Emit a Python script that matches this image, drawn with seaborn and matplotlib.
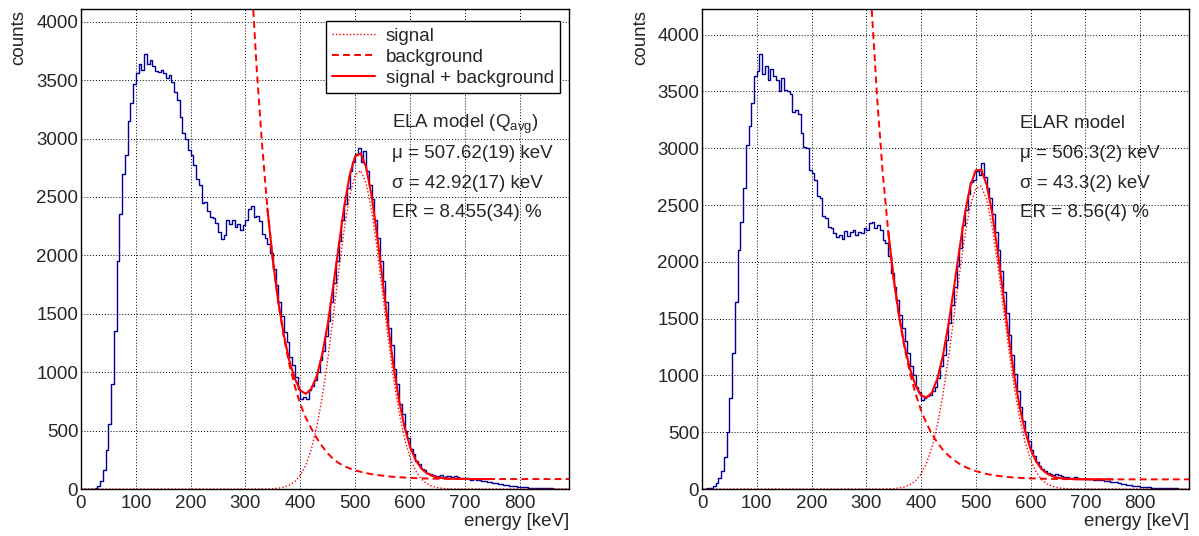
import numpy as np
import pandas as pd
import seaborn as sns
import matplotlib.pyplot as plt
from matplotlib.ticker import MultipleLocator

# histogram binning (keV)
bin_width = 5
energy_max = 890

# counts per 5 keV bin, 0..885 keV
counts_ela = [
    0, 0, 0, 0, 0, 5, 25, 70, 160, 330,
    560, 900, 1350, 1950, 2350, 2700, 2860, 3150, 3300, 3470,
    3560, 3640, 3590, 3720, 3640, 3670, 3620, 3580, 3570, 3590,
    3560, 3520, 3540, 3480, 3400, 3330, 3180, 3050, 3000, 2900,
    2860, 2770, 2650, 2600, 2450, 2460, 2380, 2330, 2320, 2280,
    2200, 2140, 2170, 2300, 2270, 2300, 2240, 2270, 2220, 2260,
    2300, 2400, 2420, 2330, 2340, 2290, 2180, 2150,
    2100, 2020, 1880, 1750, 1600, 1480, 1340, 1260, 1130, 1060,
    960, 860, 770, 790, 770, 850, 880, 930, 1000, 1100,
    1180, 1310, 1440, 1600, 1760, 1950, 2120, 2300, 2440, 2580,
    2720, 2800, 2870, 2920, 2800, 2890, 2720, 2600, 2480, 2300,
    2150, 1950, 1780, 1600, 1380, 1230, 1030, 900, 730, 640,
    500, 440, 340, 300, 240, 210, 170, 160, 140, 125,
    120, 115, 110, 118, 105, 110, 112, 100, 108, 100,
    95, 92, 90, 88, 80, 82, 75, 76, 70, 66,
    62, 60, 55, 50, 45, 40, 35, 32, 28, 25,
    22, 20, 18, 15, 13, 12, 10, 9, 8, 7,
    6, 6, 5, 5, 4, 4, 3, 3, 3, 2,
]
counts_elar = [
    0, 2, 5, 12, 25, 50, 95, 160, 280, 500,
    800, 1200, 1650, 2100, 2350, 2650, 3030, 3200, 3400, 3640,
    3680, 3830, 3650, 3720, 3600, 3700, 3640, 3600, 3500, 3620,
    3510, 3500, 3480, 3320, 3340, 3300, 3130, 3010, 3000, 2810,
    2780, 2720, 2580, 2560, 2400, 2390, 2310, 2300, 2250, 2220,
    2240, 2200, 2270, 2230, 2260, 2280, 2240, 2260, 2250, 2300,
    2280, 2340, 2350, 2300, 2320, 2280, 2190, 2170,
    2050, 1900, 1780, 1660, 1530, 1420, 1300, 1200, 1080, 1000,
    900, 850, 780, 800, 820, 830, 860, 900, 980, 1080,
    1180, 1310, 1460, 1620, 1780, 1960, 2120, 2320, 2460, 2600,
    2700, 2720, 2800, 2760, 2870, 2750, 2650, 2560, 2420, 2260,
    2100, 1920, 1730, 1550, 1360, 1180, 1010, 860, 720, 600,
    500, 420, 340, 290, 240, 200, 175, 160, 140, 135,
    125, 130, 120, 115, 108, 110, 100, 98, 102, 95,
    92, 90, 88, 85, 85, 80, 82, 78, 75, 72,
    70, 65, 62, 58, 52, 48, 42, 38, 34, 30,
    27, 24, 20, 18, 16, 14, 12, 11, 10, 9,
    8, 7, 7, 6, 5, 5, 4, 4, 3, 3,
]

# fit curves sampled every 10 keV from 300 to 890 keV
curve_energy = list(range(300, 900, 10))
signal_ela = [
    0, 0, 0, 0, 1, 3, 7, 16, 33, 64,
    118, 205, 339, 532, 789, 1108, 1474, 1859, 2219, 2510,
    2687, 2726, 2618, 2382, 2053, 1675, 1295, 948, 657, 432,
    268, 158, 88, 47, 23, 11, 5, 2, 1, 0,
    0, 0, 0, 0, 0, 0, 0, 0, 0, 0,
    0, 0, 0, 0, 0, 0, 0, 0, 0, 0,
]
background_ela = [
    5460, 4449, 3628, 2962, 2400, 1950, 1590, 1300, 1065, 880,
    725, 610, 518, 435, 365, 305, 258, 222, 196, 176,
    160, 147, 136, 127, 120, 114, 109, 104, 101, 98,
    95, 93, 92, 90, 89, 88, 88, 87, 87, 86,
    86, 86, 85, 85, 85, 85, 85, 85, 85, 85,
    85, 85, 85, 85, 85, 85, 85, 85, 85, 85,
]
signal_elar = [
    0, 0, 0, 1, 2, 4, 9, 19, 38, 73,
    131, 226, 367, 567, 829, 1150, 1511, 1883, 2226, 2493,
    2648, 2666, 2545, 2304, 1977, 1608, 1240, 907, 629, 413,
    257, 152, 85, 45, 23, 11, 5, 2, 1, 0,
    0, 0, 0, 0, 0, 0, 0, 0, 0, 0,
    0, 0, 0, 0, 0, 0, 0, 0, 0, 0,
]
background_elar = [
    5204, 4223, 3430, 2789, 2270, 1851, 1513, 1239, 1018, 839,
    694, 578, 483, 407, 345, 295, 255, 222, 196, 175,
    158, 144, 132, 123, 116, 110, 105, 101, 98, 96,
    94, 92, 91, 90, 89, 88, 87, 87, 86, 86,
    86, 85, 85, 85, 85, 85, 85, 85, 85, 85,
    85, 85, 85, 85, 85, 85, 85, 85, 85, 85,
]
fit_range = (340, 750)

text_ela = ['ELA model (Q$_{avg}$)', 'μ = 507.62(19) keV', 'σ = 42.92(17) keV', 'ER = 8.455(34) %']
text_elar = ['ELAR model', 'μ = 506.3(2) keV', 'σ = 43.3(2) keV', 'ER = 8.56(4) %']

sns.set_style('white')
plt.rcParams['font.family'] = ['Liberation Sans', 'DejaVu Sans']
plt.rcParams['mathtext.default'] = 'regular'

W, H = 1199, 536
fig = plt.figure(figsize=(W / 100, H / 100), dpi=100)

RED = '#ff0000'
BLUE = '#000099'
FS = 13.5


def draw_panel(rect, counts, sig, bkg, ymax, texts, text_x, show_legend):
    ax = fig.add_axes(rect)
    nb = len(counts)
    hist = pd.DataFrame({'energy': np.arange(nb) * bin_width + bin_width / 2,
                         'counts': np.asarray(counts, dtype=float)})
    sns.histplot(data=hist, x='energy', weights='counts', binwidth=bin_width,
                 binrange=(0, nb * bin_width), element='step',
                 fill=False, color=BLUE, linewidth=1.0, ax=ax)

    df = pd.DataFrame({'energy': curve_energy, 'signal': sig, 'background': bkg})
    df['total'] = df.signal + df.background
    sig_df = pd.concat([pd.DataFrame({'energy': [0], 'signal': [0]}),
                        df[['energy', 'signal']]], ignore_index=True)
    sns.lineplot(data=sig_df, x='energy', y='signal', color=RED, linewidth=1.0,
                 linestyle=(0, (1, 1.5)), ax=ax, label='signal')
    sns.lineplot(data=df, x='energy', y='background', color=RED, linewidth=1.4,
                 linestyle=(0, (3.5, 2.2)), ax=ax, label='background')
    fit = df[(df.energy >= fit_range[0]) & (df.energy <= fit_range[1])]
    sns.lineplot(data=fit, x='energy', y='total', color=RED, linewidth=1.5,
                 ax=ax, label='signal + background')

    ax.set_xlim(0, energy_max)
    ax.set_ylim(0, ymax)
    ax.set_xlabel('')
    ax.set_ylabel('')
    ax.xaxis.set_major_locator(MultipleLocator(100))
    ax.xaxis.set_minor_locator(MultipleLocator(20))
    ax.yaxis.set_major_locator(MultipleLocator(500))
    ax.yaxis.set_minor_locator(MultipleLocator(100))
    ax.tick_params(axis='both', which='both', direction='in', top=False, right=False,
                   labelsize=FS, color='black', width=1)
    ax.tick_params(axis='x', which='major', length=10, pad=4)
    ax.tick_params(axis='x', which='minor', length=5)
    ax.tick_params(axis='y', which='major', length=11, pad=2)
    ax.tick_params(axis='y', which='minor', length=5.3)
    ax.grid(True, which='major', color='black', linestyle=(0, (1, 2)), linewidth=0.7)
    ax.set_axisbelow(True)
    for s in ax.spines.values():
        s.set_visible(True)
        s.set_color('black')
        s.set_linewidth(1)

    if show_legend:
        ax.legend(loc='upper left', bbox_to_anchor=(325.7 / W, 1 - 21.3 / H),
                  bbox_transform=fig.transFigure, borderaxespad=0, fontsize=FS,
                  frameon=True, fancybox=False, edgecolor='black', framealpha=1,
                  borderpad=0.35, handlelength=2.3, handletextpad=0.55, labelspacing=0.2)
        ax.get_legend().get_frame().set_linewidth(1)
    else:
        leg = ax.get_legend()
        if leg is not None:
            leg.remove()

    for i, t in enumerate(texts):
        fig.text(text_x / W, 1 - (124 + 29.5 * i) / H, t, fontsize=FS, ha='left', va='center')
    return ax


ax1 = draw_panel([81 / W, 47 / H, 488 / W, 479.7 / H], counts_ela, signal_ela, background_ela,
                 4106, text_ela, 392, True)
ax2 = draw_panel([702 / W, 47 / H, 487.3 / W, 479.7 / H], counts_elar, signal_elar, background_elar,
                 4223, text_elar, 1020, False)

for xl, xr in [(19, 569), (641, 1189)]:
    fig.text(xl / W, 1 - 10 / H, 'counts', rotation=90, ha='center', va='top', fontsize=FS)
    fig.text(xr / W, 1 - 521 / H, 'energy [keV]', ha='right', va='center', fontsize=FS)

fig.savefig('out.png', dpi=100)
